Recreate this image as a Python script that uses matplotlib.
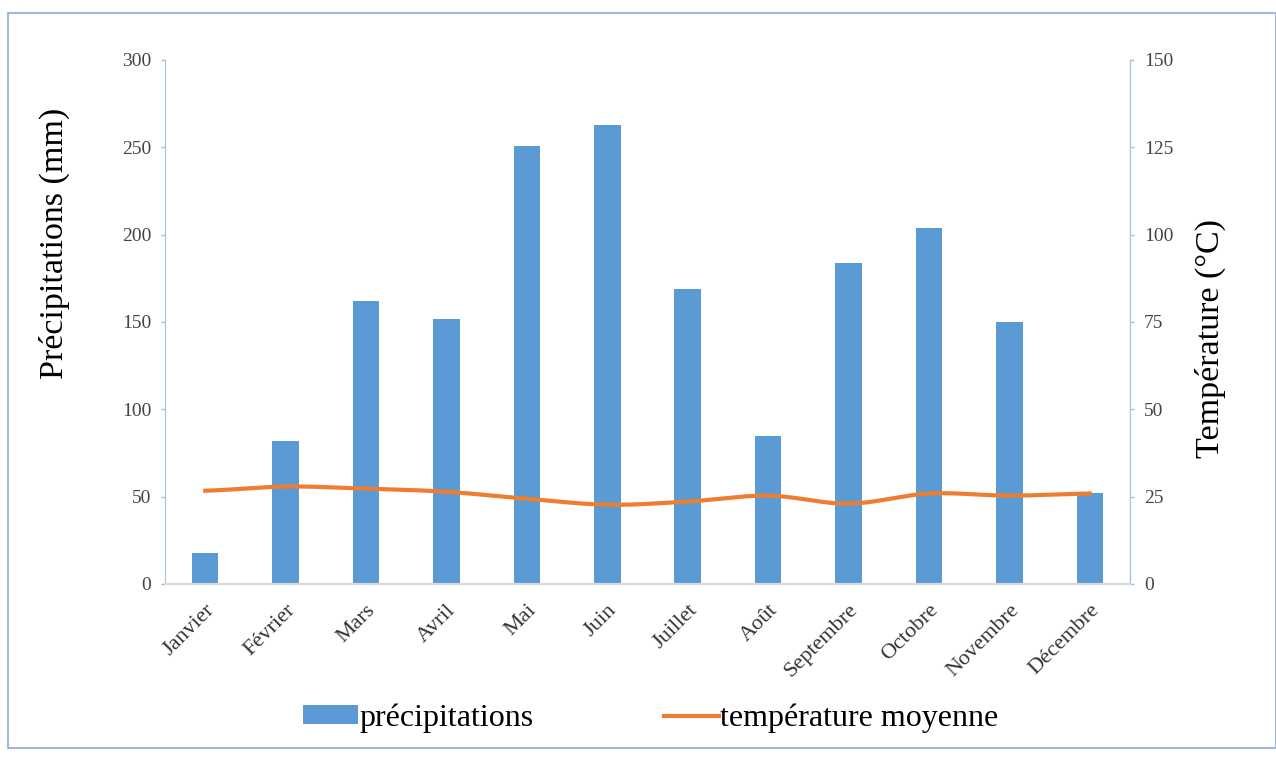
import matplotlib.pyplot as plt
import numpy as np
from matplotlib.patches import Rectangle

plt.rcParams['font.family'] = ['Liberation Serif', 'DejaVu Serif']

mois = ['Janvier', 'Février', 'Mars', 'Avril', 'Mai', 'Juin', 'Juillet',
        'Août', 'Septembre', 'Octobre', 'Novembre', 'Décembre']
precipitations = [18, 82, 162, 152, 251, 263, 169, 85, 184, 204, 150, 52]
temperature = [26.7, 27.9, 27.3, 26.4, 24.4, 22.7, 23.6, 25.3, 23.0, 25.9, 25.3, 25.9]

bleu = '#5B9BD5'
orange = '#ED7D31'
axe_bleu = '#9DC3E6'

fig = plt.figure(figsize=(12.76, 7.58), dpi=100)
ax = fig.add_axes([165 / 1276, 1 - 584 / 758, 965 / 1276, 524 / 758])
ax2 = ax.twinx()

x = np.arange(len(mois))
bars = ax.bar(x, precipitations, width=0.33, color=bleu, label='précipitations', zorder=2)

# smoothed line like the Excel one (Catmull-Rom through the points)
t = np.array(temperature)
pts = np.concatenate([[t[0]], t, [t[-1]]])
xs = np.linspace(0, len(mois) - 1, 400)
ys = np.zeros_like(xs)
for i, xv in enumerate(xs):
    k = min(int(xv), len(mois) - 2)
    u = xv - k
    p0, p1, p2, p3 = pts[k], pts[k + 1], pts[k + 2], pts[k + 3]
    ys[i] = 0.5 * ((2 * p1) + (-p0 + p2) * u + (2 * p0 - 5 * p1 + 4 * p2 - p3) * u ** 2
                   + (-p0 + 3 * p1 - 3 * p2 + p3) * u ** 3)
line, = ax2.plot(xs, ys, color=orange, linewidth=3, label='température moyenne', zorder=3)

ax.set_xlim(-0.5, len(mois) - 0.5)
ax.set_ylim(0, 300)
ax2.set_ylim(0, 150)
ax.set_yticks(np.arange(0, 301, 50))
ax2.set_yticks(np.arange(0, 151, 25))

ax.set_xticks(x)
ax.set_xticklabels(mois, rotation=45, ha='right', rotation_mode='anchor', fontsize=16, color='#333333')

for a in (ax, ax2):
    a.spines['top'].set_visible(False)
    a.spines['left'].set_color(axe_bleu)
    a.spines['right'].set_color(axe_bleu)
    a.spines['bottom'].set_color('#D9D9D9')
    a.spines['bottom'].set_linewidth(1.5)
    a.tick_params(axis='y', colors=axe_bleu, labelcolor='#444444', labelsize=14,
                  length=3, width=1, pad=7)
ax.tick_params(axis='x', length=0, pad=12)
ax2.spines['left'].set_visible(False)

ax.set_ylabel('Précipitations (mm)', fontsize=24.5)
ax.yaxis.set_label_coords(-0.098, 0.65)
ax2.set_ylabel('Température (°C)', fontsize=24.5, rotation=90)
ax2.yaxis.set_label_coords(1.067, 0.468)

fig.legend([bars, line], ['précipitations', 'température moyenne'], loc='center',
           bbox_to_anchor=(651 / 1276, 1 - 718 / 758), ncol=2, frameon=False,
           fontsize=23, columnspacing=4.1, handlelength=1.7, handleheight=0.5,
           handletextpad=0.05)

# frame around the figure
fig.patches.append(Rectangle((8 / 1276, 10 / 758), 1268 / 1276, 735 / 758,
                             transform=fig.transFigure, fill=False,
                             edgecolor='#8EA9DB', linewidth=1.2))

fig.savefig('out.png', dpi=100)
